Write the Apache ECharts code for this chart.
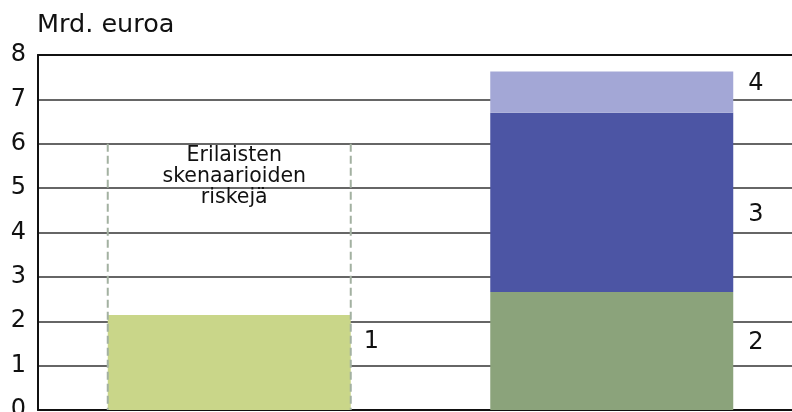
<!DOCTYPE html>
<html>
<head>
<meta charset="utf-8">
<script src="https://cdn.jsdelivr.net/npm/echarts@6/dist/echarts.min.js"></script>
<style>
html,body{margin:0;padding:0;background:#fff;}
#chart{width:792px;height:412px;}
</style>
</head>
<body>
<div id="chart"></div>
<script>
// ---- data ----
const categories = ['Skenaariot', 'Yhteensä'];
const series1Values = [2.14, '-'];   // 1
const series2Values = ['-', 2.66];   // 2
const series3Values = ['-', 4.04];   // 3
const series4Values = ['-', 0.93];   // 4
const segmentLabels = ['1', '2', '3', '4'];
const riskRange = [[0, 6]];          // category index, upper value of dashed range
const riskText = 'Erilaisten\nskenaarioiden\nriskejä';
const yTicks = [0, 1, 2, 3, 4, 5, 6, 7, 8];
const unitLabel = 'Mrd. euroa';

// ---- styles ----
const FONT = 'DejaVu Sans';
const BAR_W = 243;
const colors = ['#c9d689', '#8ba37b', '#4c55a4', '#a3a7d6'];

const chart = echarts.init(document.getElementById('chart'), null, {renderer: 'canvas'});

function barSeries(values, idx, dist, offY) {
  return {
    type: 'bar',
    stack: 'total',
    data: values,
    barWidth: BAR_W,
    itemStyle: {color: colors[idx]},
    label: {
      show: true,
      position: 'right',
      distance: dist,
      offset: [0, offY],
      formatter: () => segmentLabels[idx],
      fontFamily: FONT,
      fontSize: 24,
      color: '#111'
    },
    emphasis: {disabled: true},
    z: 2
  };
}

const option = {
  animation: false,
  title: {
    text: unitLabel,
    left: 37,
    top: 12,
    padding: 0,
    textStyle: {fontFamily: FONT, fontSize: 25.5, fontWeight: 'normal', color: '#111', lineHeight: 26}
  },
  grid: {left: 38, top: 55, width: 765, bottom: 2, containLabel: false, outerBoundsMode: 'none'},
  xAxis: [{
    type: 'category',
    data: categories,
    axisLine: {show: true, lineStyle: {color: '#111', width: 2}},
    axisTick: {show: false},
    axisLabel: {show: false},
    splitLine: {show: false}
  }, {
    type: 'category',
    data: categories,
    position: 'top',
    axisLine: {show: true, lineStyle: {color: '#111', width: 2}},
    axisTick: {show: false},
    axisLabel: {show: false}
  }],
  yAxis: {
    type: 'value',
    min: yTicks[0],
    max: yTicks[yTicks.length - 1],
    interval: 1,
    axisLine: {show: true, lineStyle: {color: '#111', width: 2}},
    axisTick: {show: false},
    axisLabel: {fontFamily: FONT, fontSize: 24, color: '#111', margin: 12},
    splitLine: {show: true, lineStyle: {color: '#333', width: 1.6}}
  },
  series: [
    barSeries(series1Values, 0, 13, -21),
    barSeries(series2Values, 1, 15, -8),
    barSeries(series3Values, 2, 15, 12),
    barSeries(series4Values, 3, 15, -8),
    {
      type: 'custom',
      data: riskRange,
      z: 5,
      silent: true,
      renderItem: function (params, api) {
        const base = api.coord([api.value(0), 0]);
        const top = api.coord([api.value(0), api.value(1)]);
        const x = base[0];
        const half = BAR_W / 2;
        const dashStyle = {stroke: '#a3b1a1', lineWidth: 2, lineDash: [8, 4]};
        return {
          type: 'group',
          children: [
            {type: 'line', shape: {x1: x - half, y1: top[1], x2: x - half, y2: base[1]}, style: dashStyle},
            {type: 'line', shape: {x1: x + half, y1: top[1], x2: x + half, y2: base[1]}, style: dashStyle},
            {type: 'text', x: x + 5, y: top[1] + 1,
             style: {text: riskText, fontFamily: FONT, fontSize: 20.5, lineHeight: 21,
                     align: 'center', verticalAlign: 'top', fill: '#111'}}
          ]
        };
      }
    }
  ]
};
chart.setOption(option);
</script>
</body>
</html>
